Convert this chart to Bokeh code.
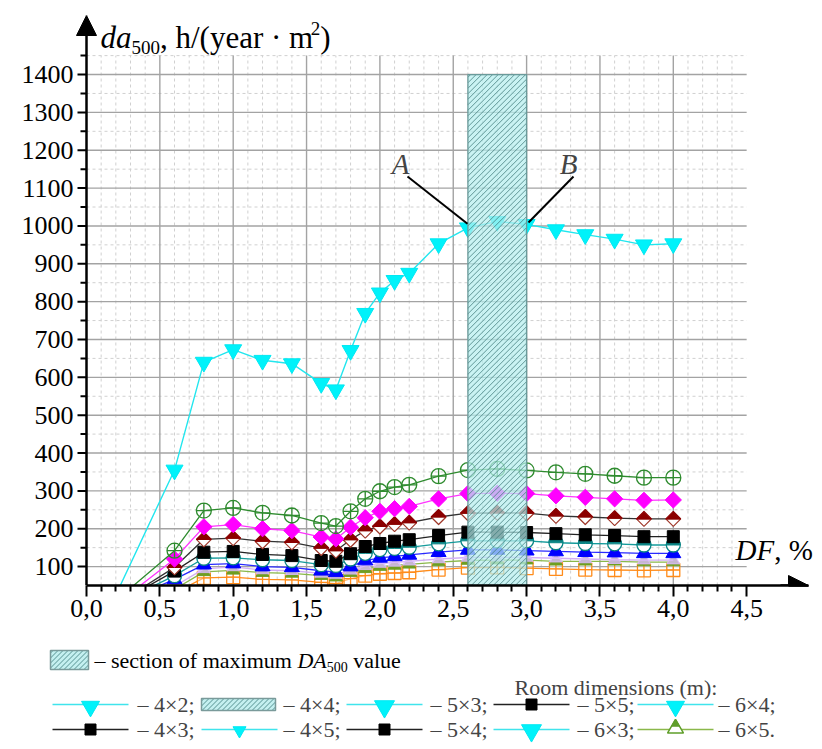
import math
from bokeh.plotting import figure
from bokeh.models import (Range1d, FixedTicker, CustomJSTickFormatter, Label, Arrow, NormalHead)
from bokeh.layouts import column
from bokeh.embed import file_html
from bokeh.resources import INLINE
from bokeh.core.properties import value

# ---------------- data ----------------
df = [0.2, 0.6, 0.8, 1.0, 1.2, 1.4, 1.6, 1.7, 1.8, 1.9, 2.0, 2.1, 2.2,
      2.4, 2.6, 2.8, 3.0, 3.2, 3.4, 3.6, 3.8, 4.0]

s_4x2 = [25, 355, 640, 673, 645, 636, 584, 567, 671, 769, 823, 856, 875,
         953, 995, 1012, 1004, 990, 977, 965, 950, 953]
s_green = [10, 142, 248, 255, 242, 235, 215, 207, 246, 279, 299, 310, 316,
           339, 355, 358, 354, 349, 345, 340, 335, 335]
s_magenta = [0, 120, 205, 211, 200, 195, 178, 173, 204, 229, 246, 253, 259,
             279, 293, 294, 293, 287, 283, 279, 275, 276]
s_darkred = [0, 98, 172, 175, 167, 164, 149, 142, 171, 195, 206, 212, 216,
             231, 241, 242, 241, 234, 231, 228, 226, 226]
s_black = [0, 88, 138, 140, 132, 129, 116, 114, 134, 153, 161, 167, 171,
           182, 191, 191, 190, 187, 184, 182, 179, 179]
s_teal = [0, 76, 122, 123, 118, 116, 105, 103, 120, 135, 145, 148, 151,
          160, 168, 168, 168, 163, 161, 160, 157, 157]
s_blue = [0, 66, 105, 108, 100, 98, 89, 85, 100, 116, 123, 127, 131,
          138, 144, 144, 142, 140, 138, 137, 135, 135]
s_lavender = [0, 48, 94, 99, 91, 89, 82, 79, 90, 102, 108, 111, 114,
              120, 124, 125, 124, 122, 120, 118, 117, 117]
s_olive = [0, 40, 86, 90, 84, 82, 76, 72, 84, 94, 100, 103, 106,
           112, 116, 117, 117, 114, 114, 114, 112, 112]
s_orange = [0, 30, 70, 72, 66, 65, 58, 55, 68, 76, 81, 83, 85,
            92, 97, 98, 96, 94, 92, 91, 90, 91]

band_df = [2.6, 3.0]
band_da = [50, 1400]

x_major = [0.0, 0.5, 1.0, 1.5, 2.0, 2.5, 3.0, 3.5, 4.0, 4.5]
x_minor = [round(i * 0.1, 1) for i in range(0, 46) if i % 5]
y_major = [100, 200, 300, 400, 500, 600, 700, 800, 900, 1000, 1100, 1200, 1300, 1400]
y_minor = [150, 250, 350, 450, 550, 650, 750, 850, 950, 1050, 1150, 1250, 1350, 1450]

point_A = [2.597, 1006]
point_B = [3.013, 1009]

legend_rows = [["4×2;", "4×4;", "5×3;", "5×5;", "6×4;"],
               ["4×3;", "4×5;", "5×4;", "6×3;", "6×5."]]

# ---------------- layout constants (page pixels) ----------------
FONT = "Liberation Serif"
PW = 822
AX_X = 86            # page x of DF = 0
AX_Y = 585           # page y of da = 50 (x axis)
TOP = 15             # page y of frame top (y arrow tip)
XS = 146.7           # px per DF unit
Y_BASE = 50
Y_TIP = Y_BASE + (AX_Y - TOP) / 0.37849
YS = (AX_Y - TOP) / (Y_TIP - Y_BASE)
X_LO = -AX_X / XS
X_HI = (PW - AX_X) / XS
X_TIP = (808 - AX_X) / XS


def dx(px):
    return (px - AX_X) / XS


def dy(py):
    return Y_BASE + (AX_Y - py) / YS


def sx(x):
    return AX_X + x * XS


def sy(y):
    return AX_Y - (y - Y_BASE) * YS


# Times-like glyph widths (per 1000 em)
_W = {' ': 250, ',': 250, '.': 250, '–': 500, '×': 564, ';': 278, ':': 278,
      '(': 333, ')': 333, '/': 278, '·': 250, '%': 833, 'R': 667, 'D': 722,
      'A': 722, 'F': 556, 'B': 667,
      'a': 444, 'b': 500, 'c': 444, 'd': 500, 'e': 444, 'f': 333, 'g': 500,
      'h': 500, 'i': 278, 'j': 278, 'k': 500, 'l': 278, 'm': 778, 'n': 500,
      'o': 500, 'p': 500, 'q': 500, 'r': 333, 's': 389, 't': 278, 'u': 500,
      'v': 500, 'w': 722, 'x': 500, 'y': 500, 'z': 444}
_WI = {'D': 722, 'A': 611, 'F': 611, 'd': 500, 'a': 500, 'B': 611}


def tw(s, size, italic=False):
    tot = 0
    for ch in s:
        if italic and ch in _WI:
            tot += _WI[ch]
        elif ch.isdigit():
            tot += 500
        else:
            tot += _W.get(ch, 500)
    return tot * size / 1000.0


def hatch_lines(x0, x1, y0, y1, step):
    """'/' hatch lines clipped to a screen rectangle (y down)."""
    segs = []
    c = x0 + y0 + step / 2
    while c < x1 + y1:
        lo = max(x0, c - y1)
        hi = min(x1, c - y0)
        if lo < hi:
            segs.append((lo, c - lo, hi, c - hi))
        c += step
    return segs


# ---------------- main figure ----------------
p = figure(frame_width=PW, frame_height=AX_Y - TOP, x_range=Range1d(X_LO, X_HI),
           y_range=Range1d(Y_BASE, Y_TIP), output_backend="svg", toolbar_location=None,
           y_axis_type=None, min_border_left=0, min_border_right=0, min_border_top=TOP,
           min_border_bottom=50)
p.outline_line_color = None
p.xgrid.visible = False
p.background_fill_color = "white"
p.border_fill_color = "white"

ax = p.xaxis[0]
ax.bounds = (0, X_TIP)
ax.axis_line_width = 2.5
ax.axis_line_color = "black"
ax.major_tick_line_width = 2
ax.minor_tick_line_width = 2
ax.major_tick_in = 0
ax.minor_tick_in = 0
ax.major_tick_out = 11
ax.minor_tick_out = 6
ax.major_label_standoff = 3
ax.major_label_text_font = FONT
ax.major_label_text_font_size = "26px"
ax.major_label_text_color = "black"
ax.ticker = FixedTicker(ticks=x_major, minor_ticks=x_minor)
ax.formatter = CustomJSTickFormatter(code="return tick.toFixed(1).replace('.', ',');")

# grid (limited to 0..4.5, 50..1450)
gx_major = [v for v in x_major if 0 < v < 4.5]
gx_minor = [v for v in x_minor if v < 4.5]
p.segment(x0=gx_minor, y0=[Y_BASE] * len(gx_minor), x1=gx_minor, y1=[1450] * len(gx_minor),
          line_color="#d0d0d0", line_dash="3 3", line_width=1)
p.segment(x0=[0] * len(y_minor), y0=y_minor, x1=[4.5] * len(y_minor), y1=y_minor,
          line_color="#d0d0d0", line_dash="3 3", line_width=1)
p.segment(x0=gx_major, y0=[Y_BASE] * len(gx_major), x1=gx_major, y1=[1450] * len(gx_major),
          line_color="#a3a3a3", line_width=1.4)
p.segment(x0=[0] * len(y_major), y0=y_major, x1=[4.5] * len(y_major), y1=y_major,
          line_color="#a3a3a3", line_width=1.4)

# manual y axis: ticks and labels
p.segment(x0=[dx(AX_X - 9)] * len(y_major), y0=y_major, x1=[0] * len(y_major), y1=y_major,
          line_color="black", line_width=2)
p.segment(x0=[dx(AX_X - 6)] * len(y_minor), y0=y_minor, x1=[0] * len(y_minor), y1=y_minor,
          line_color="black", line_width=2)
p.text(x=[dx(AX_X - 13)] * len(y_major), y=y_major, text=[str(v) for v in y_major],
       text_font=value(FONT), text_font_size=value("26px"), text_align="right",
       text_baseline="middle", text_color="black")

mx = df[1:]

# orange square-cross
p.line(df, s_orange, line_color="#ff8c1a", line_width=1.3)
p.scatter(mx, s_orange[1:], marker="square_cross", size=13, line_color="#ff8c1a",
          fill_color="white", fill_alpha=0.4, line_width=1.3)
# olive triangles
p.line(df, s_olive, line_color="#8ab84a", line_width=1.3)
p.scatter(mx, s_olive[1:], marker="triangle", size=13, line_color="#6f9e22",
          fill_color="#6f9e22")
# lavender
p.line(df, s_lavender, line_color="#d2aef5", line_width=1.3)
p.scatter(mx, s_lavender[1:], marker="triangle", size=13, line_color="#dcbcff",
          fill_color="#dcbcff", alpha=0.8)
# blue triangles
p.line(df, s_blue, line_color="#2a2aff", line_width=1.3)
p.scatter(mx, s_blue[1:], marker="triangle", size=15, line_color="#0000ff",
          fill_color="#0000ff")
# teal half circles
p.line(df, s_teal, line_color="#159b9b", line_width=1.3)
p.scatter(mx, s_teal[1:], marker="circle", size=14, line_color="#0a8585",
          fill_color="white", line_width=1.3)
p.wedge(x=mx, y=s_teal[1:], radius=7, radius_units="screen", start_angle=0,
        end_angle=math.pi, fill_color="#0a8585", line_color="#0a8585")
# black squares
p.line(df, s_black, line_color="#222222", line_width=1.3)
p.scatter(mx, s_black[1:], marker="square", size=12, line_color="black",
          fill_color="black")
# dark red half diamonds
p.line(df, s_darkred, line_color="#333333", line_width=1.3)
hd_x, hd_y = 7.5 / XS, 7.5 / YS
top_xs = [[x - hd_x, x, x + hd_x] for x in mx]
top_ys = [[y, y + hd_y, y] for y in s_darkred[1:]]
bot_ys = [[y, y - hd_y, y] for y in s_darkred[1:]]
p.patches(top_xs, bot_ys, fill_color="white", line_color="#a0392b", line_width=1.2)
p.patches(top_xs, top_ys, fill_color="#8b0000", line_color="#8b0000", line_width=1.2)
# magenta diamonds
p.line(df, s_magenta, line_color="#ff33ff", line_width=1.3)
p.scatter(mx, s_magenta[1:], marker="square", angle=math.pi / 4, size=11.5,
          line_color="#ff00ff", fill_color="#ff00ff")
# green circle-cross
p.line(df, s_green, line_color="#2e8b2e", line_width=1.3)
p.scatter(mx, s_green[1:], marker="circle_cross", size=15, line_color="#2e8b2e",
          fill_color=None, line_width=1.3)
# cyan 4x2
p.line(df, s_4x2, line_color="#22e6ee", line_width=1.4)
p.scatter(mx, s_4x2[1:], marker="inverted_triangle", size=17, line_color="#00e8f2",
          fill_color="#00f2fa")

# band of maximum (light fill + diagonal hatch lines)
p.quad(left=band_df[0], right=band_df[1], bottom=band_da[0], top=band_da[1],
       fill_color="#b6eeee", fill_alpha=0.72, line_color=None)
segs = hatch_lines(sx(band_df[0]), sx(band_df[1]), sy(band_da[1]), sy(band_da[0]), 5.5)
p.segment(x0=[dx(s[0]) for s in segs], y0=[dy(s[1]) for s in segs],
          x1=[dx(s[2]) for s in segs], y1=[dy(s[3]) for s in segs],
          line_color="#3f7a7a", line_width=0.9, line_alpha=0.85)
p.quad(left=band_df[0], right=band_df[1], bottom=band_da[0], top=band_da[1],
       fill_color=None, line_color="#6a9a9a", line_width=1.3)

# A / B annotation
p.segment(x0=[dx(407), dx(573)], y0=[dy(176), dy(176)], x1=[point_A[0], point_B[0]],
          y1=[point_A[1], point_B[1]], line_color="black", line_width=2)
for txt, px in (("A", 400), ("B", 568)):
    p.add_layout(Label(x=dx(px), y=dy(163), text=txt, text_font=FONT,
                       text_font_style="italic", text_font_size="29px",
                       text_align="center", text_baseline="middle"))

# axes arrows (y axis line drawn by its arrow)
p.add_layout(Arrow(end=NormalHead(size=20, fill_color="black", line_color="black"),
                   x_start=dx(780), y_start=Y_BASE, x_end=X_TIP, y_end=Y_BASE, line_width=2.5))
p.add_layout(Arrow(end=NormalHead(size=20, fill_color="black", line_color="black"),
                   x_start=0, y_start=Y_BASE, x_end=0, y_end=Y_TIP, line_width=2.5))


def pieces(fig_add, x_px, mid_py, parts, conv_x, conv_y):
    """Consecutive text pieces; each part = (text, size, italic, vertical shift of its middle)."""
    x = x_px
    for txt, size, italic, shift in parts:
        while txt.startswith(" "):
            x += tw(" ", size)
            txt = txt[1:]
        fig_add(Label(x=conv_x(x), y=conv_y(mid_py + shift), text=txt, text_font=FONT,
                      text_font_size=f"{size}px",
                      text_font_style="italic" if italic else "normal",
                      text_align="left", text_baseline="middle", text_color="black"))
        x += tw(txt, size, italic)


# y title
pieces(p.add_layout, 100, 37,
       [("da", 31, True, 0), ("500", 19, False, 10), (", h/(year · m", 31, False, 0),
        ("2", 19, False, -9), (")", 31, False, 0)], dx, dy)
# x title
pieces(p.add_layout, 735, 549,
       [("DF", 29, True, 0), (", %", 29, False, 0)], dx, dy)

# ---------------- legend figure (page pixel coordinates) ----------------
LT, LB = 635, 749
q = figure(frame_width=PW, frame_height=LB - LT, x_range=Range1d(0, PW),
           y_range=Range1d(LB, LT), output_backend="svg", toolbar_location=None,
           min_border=0, x_axis_type=None, y_axis_type=None)
q.outline_line_color = None
q.xgrid.visible = False
q.ygrid.visible = False
q.background_fill_color = "white"
q.border_fill_color = "white"


def ident(v):
    return v


def legend_box(x0, x1, y0, y1):
    q.quad(left=x0, right=x1, top=y0, bottom=y1, fill_color="#c4f0f0", line_color=None)
    hs = hatch_lines(x0, x1, y0, y1, 5)
    q.segment(x0=[s[0] for s in hs], y0=[s[1] for s in hs], x1=[s[2] for s in hs],
              y1=[s[3] for s in hs], line_color="#4a8686", line_width=0.9)
    q.quad(left=x0, right=x1, top=y0, bottom=y1, fill_color=None, line_color="#7a9a9a",
           line_width=1.5)


legend_box(50, 88, 650, 669)
pieces(q.add_layout, 94, 660,
       [("– section of maximum ", 22, False, 0), ("DA", 22, True, 0),
        ("500", 14, False, 6), (" value", 22, False, 0)], ident, ident)
q.add_layout(Label(x=514, y=687, text="Room dimensions (m):", text_font=FONT,
                   text_font_size="22px", text_baseline="middle"))

row_y = [704, 729]
sample_x = [52, 201, 346, 493, 637]
text_x = [137, 283, 430, 577, 718]
SW = 76

cy = row_y[0]
for sxp, kind in zip(sample_x, ["tri_big", "hatch", "tri_big2", "sq", "tri_big"]):
    if kind == "hatch":
        legend_box(sxp, sxp + 74, cy - 6, cy + 6)
        continue
    col = "#222222" if kind == "sq" else "#40e4ec"
    q.segment(x0=[sxp], y0=[cy], x1=[sxp + SW], y1=[cy], line_color=col, line_width=1.5)
    if kind == "sq":
        q.scatter([sxp + SW / 2], [cy], marker="square", size=11, fill_color="black",
                  line_color="black")
    else:
        q.scatter([sxp + SW / 2], [cy + 2], marker="inverted_triangle",
                  size=20 if kind == "tri_big2" else 18, fill_color="#00f2fa",
                  line_color="#00e8f2")
cy = row_y[1]
for sxp, kind in zip(sample_x, ["sq", "tri_small", "sq", "tri_big2", "olive"]):
    if kind == "sq":
        col = "#222222"
    elif kind == "olive":
        col = "#8ab84a"
    else:
        col = "#40e4ec"
    q.segment(x0=[sxp], y0=[cy], x1=[sxp + SW], y1=[cy], line_color=col, line_width=1.5)
    if kind == "sq":
        q.scatter([sxp + SW / 2], [cy], marker="square", size=11, fill_color="black",
                  line_color="black")
    elif kind == "olive":
        q.scatter([sxp + SW / 2], [cy - 1], marker="triangle", size=16, fill_color="white",
                  line_color="#5f9e2a", line_width=1.5)
        q.scatter([sxp + SW / 2], [cy - 5.6], marker="triangle", size=8,
                  fill_color="#5f9e2a", line_color="#5f9e2a")
    else:
        q.scatter([sxp + SW / 2], [cy + 1], marker="inverted_triangle",
                  size=20 if kind == "tri_big2" else 13, fill_color="#00f2fa",
                  line_color="#00e8f2")

for r, labels in enumerate(legend_rows):
    for tx, lab in zip(text_x, labels):
        q.add_layout(Label(x=tx, y=row_y[r], text="– " + lab, text_font=FONT,
                           text_font_size="22px", text_baseline="middle"))

layout = column(p, q, spacing=0)
open("out.html", "w").write(file_html(layout, INLINE))
